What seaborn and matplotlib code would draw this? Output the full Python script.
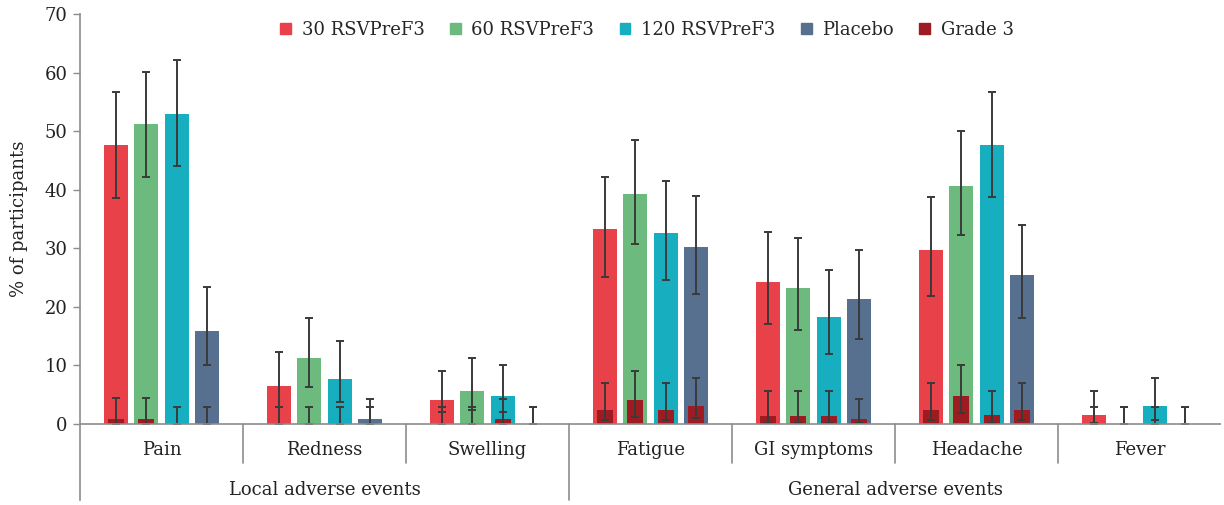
import numpy as np
import pandas as pd
import matplotlib
matplotlib.use('Agg')
import matplotlib.pyplot as plt
import seaborn as sns
from matplotlib.patches import Patch

categories = ['Pain', 'Redness', 'Swelling', 'Fatigue', 'GI symptoms', 'Headache', 'Fever']
groups = ['30 RSVPreF3', '60 RSVPreF3', '120 RSVPreF3', 'Placebo']

# any grade, % of participants
pct_30 = [47.6, 6.5, 4.0, 33.2, 24.2, 29.7, 1.5]
pct_60 = [51.2, 11.2, 5.6, 39.3, 23.2, 40.6, 0.0]
pct_120 = [53.0, 7.7, 4.7, 32.6, 18.3, 47.6, 3.1]
pct_pbo = [15.9, 0.8, 0.0, 30.2, 21.3, 25.4, 0.0]

hi_30 = [56.7, 12.3, 9.1, 42.1, 32.8, 38.8, 5.6]
hi_60 = [60.1, 18.0, 11.2, 48.5, 31.7, 50.0, 2.8]
hi_120 = [62.1, 14.2, 10.1, 41.5, 26.2, 56.7, 7.9]
hi_pbo = [23.3, 4.3, 2.8, 39.0, 29.7, 34.0, 2.8]

lo_30 = [38.6, 2.8, 2.0, 25.0, 17.0, 21.9, 0.2]
lo_60 = [42.1, 6.3, 2.4, 30.7, 16.0, 32.2, 0.0]
lo_120 = [44.0, 3.8, 2.0, 24.6, 12.0, 38.8, 0.7]
lo_pbo = [10.0, 0.0, 0.0, 22.2, 14.5, 18.0, 0.0]

# grade 3
g3_30 = [0.9, 0.0, 0.0, 2.3, 1.4, 2.3, 0.0]
g3_60 = [0.9, 0.0, 0.0, 4.0, 1.4, 4.8, 0.0]
g3_120 = [0.0, 0.0, 0.85, 2.4, 1.4, 1.5, 0.0]
g3_pbo = [0.0, 0.0, 0.0, 3.1, 0.85, 2.3, 0.0]

g3_hi_30 = [4.4, 2.8, 2.8, 6.9, 5.7, 6.9, 2.8]
g3_hi_60 = [4.4, 2.8, 2.8, 9.1, 5.7, 10.1, 2.8]
g3_hi_120 = [2.8, 2.8, 4.2, 6.9, 5.7, 5.6, 2.8]
g3_hi_pbo = [2.8, 2.8, 2.8, 7.9, 4.2, 6.9, 2.8]

g3_lo_30 = [0.0, 0.0, 0.0, 0.7, 0.2, 0.7, 0.0]
g3_lo_60 = [0.0, 0.0, 0.0, 1.1, 0.2, 1.8, 0.0]
g3_lo_120 = [0.0, 0.0, 0.0, 0.7, 0.2, 0.2, 0.0]
g3_lo_pbo = [0.0, 0.0, 0.0, 1.0, 0.1, 0.7, 0.0]

colors = ['#E8414A', '#6DBA7E', '#17AFBF', '#58708F']
grade3_color = '#9E1B22'
err_color = '#3a3a3a'
line_gray = '#8c8c8c'
text_color = '#222222'

rows = []
series = [(pct_30, hi_30, lo_30, g3_30, g3_hi_30, g3_lo_30),
          (pct_60, hi_60, lo_60, g3_60, g3_hi_60, g3_lo_60),
          (pct_120, hi_120, lo_120, g3_120, g3_hi_120, g3_lo_120),
          (pct_pbo, hi_pbo, lo_pbo, g3_pbo, g3_hi_pbo, g3_lo_pbo)]
for g, (p, hi, lo, g3, g3hi, g3lo) in zip(groups, series):
    for i, c in enumerate(categories):
        rows.append({'Event': c, 'Group': g, 'Pct': p[i], 'Hi': hi[i], 'Lo': lo[i],
                     'G3': g3[i], 'G3Hi': g3hi[i], 'G3Lo': g3lo[i]})
df = pd.DataFrame(rows)

sns.set_style('white')
plt.rcParams['font.family'] = ['DejaVu Serif']
fs = 13

ymin = -13
fig = plt.figure(figsize=(12.24, 5.05), dpi=100)
ax = fig.add_axes([80 / 1224, 5 / 505, 1141 / 1224, 486 / 505])

sns.barplot(data=df, x='Event', y='Pct', hue='Group', order=categories, hue_order=groups,
            palette=colors, width=0.74, gap=0.2, errorbar=None, legend=False, ax=ax,
            saturation=1, linewidth=0)
sns.barplot(data=df, x='Event', y='G3', hue='Group', order=categories, hue_order=groups,
            palette=[grade3_color] * 4, width=0.74, gap=0.47, errorbar=None, legend=False,
            ax=ax, saturation=1, linewidth=0)

for gi, g in enumerate(groups):
    sub = df[df['Group'] == g].set_index('Event').loc[categories]
    xs = [b.get_x() + b.get_width() / 2 for b in ax.containers[gi]]
    v = sub['Pct'].values
    ax.errorbar(xs, v, yerr=[v - sub['Lo'].values, sub['Hi'].values - v], fmt='none',
                ecolor=err_color, elinewidth=1.4, capsize=3.2, capthick=1.4, zorder=4)
    v3 = sub['G3'].values
    ax.errorbar(xs, v3, yerr=[v3 - sub['G3Lo'].values, sub['G3Hi'].values - v3], fmt='none',
                ecolor=err_color, elinewidth=1.4, capsize=3.2, capthick=1.4, zorder=4)

ax.set_xlim(-0.5, len(categories) - 0.5)
ax.set_ylim(ymin, 70)
ax.set_yticks(range(0, 71, 10))
ax.tick_params(axis='y', which='both', left=True, length=5, width=1, color=line_gray,
               labelsize=fs, labelcolor=text_color, pad=4)
ax.set_xticks([])
ax.set_xlabel('')
ax.set_ylabel('% of participants', fontsize=fs, color=text_color)
ax.yaxis.set_label_coords(-0.046, (35 - ymin) / (70 - ymin))

for s in ['top', 'right', 'bottom']:
    ax.spines[s].set_visible(False)
ax.spines['left'].set_color(line_gray)
ax.spines['left'].set_linewidth(1.2)

ax.axhline(0, color=line_gray, lw=1.2, zorder=5)
for k in range(1, len(categories)):
    bottom = ymin if k == 3 else -6.7
    ax.plot([k - 0.5, k - 0.5], [0, bottom], color=line_gray, lw=1.2, clip_on=False)

for i, c in enumerate(categories):
    ax.text(i, -4.4, c, ha='center', va='center', fontsize=fs, color=text_color)
ax.text(1, -11.3, 'Local adverse events', ha='center', va='center', fontsize=fs, color=text_color)
ax.text(4.5, -11.3, 'General adverse events', ha='center', va='center', fontsize=fs,
        color=text_color)

handles = [Patch(color=c, label=g) for c, g in zip(colors, groups)]
handles.append(Patch(color=grade3_color, label='Grade 3'))
fig.legend(handles=handles, loc='center', bbox_to_anchor=(647 / 1224, 1 - 30 / 505), ncol=5,
           frameon=False, fontsize=fs, handlelength=0.6, handleheight=0.6,
           handletextpad=0.6, columnspacing=1.4)

fig.savefig('out.png', dpi=100)
